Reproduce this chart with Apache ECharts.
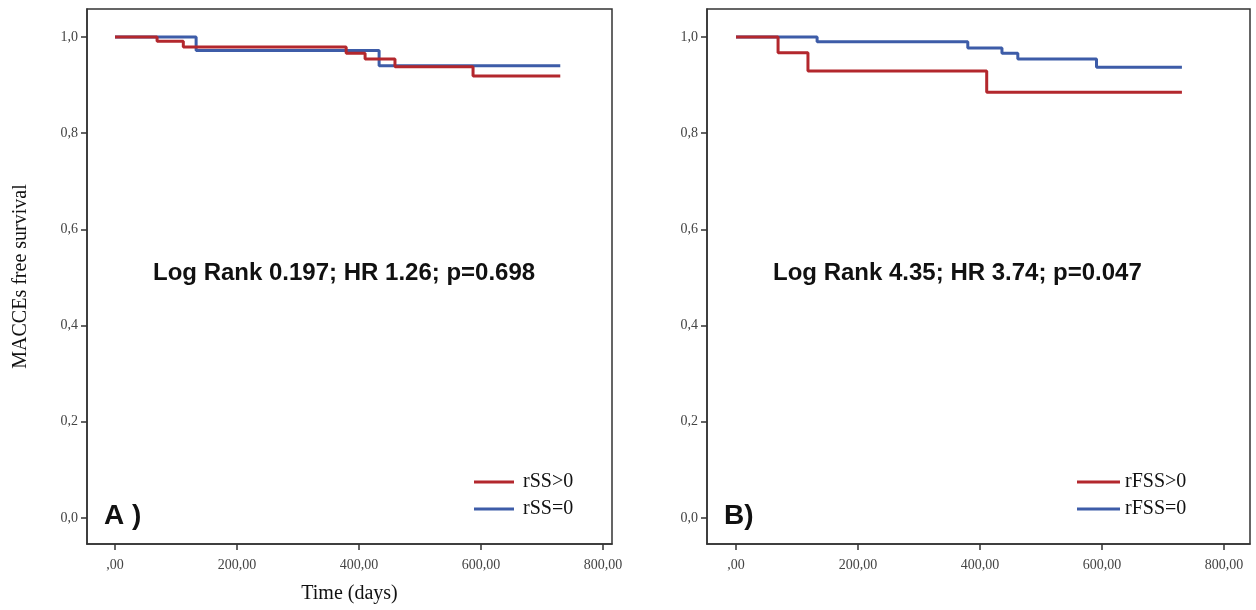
<!DOCTYPE html>
<html>
<head>
<meta charset="utf-8">
<script src="https://cdn.jsdelivr.net/npm/echarts@6/dist/echarts.min.js"></script>
<style>
  html, body { margin: 0; padding: 0; background: #fff; }
  #main { width: 1256px; height: 610px; }
</style>
</head>
<body>
<div id="main"></div>
<script>
// panel A: rSS
var timeA1 = [0, 69, 112, 379, 410, 459, 587, 730]
var survA1 = [1, 0.991, 0.979, 0.966, 0.954, 0.938, 0.919, 0.919]
var timeA0 = [0, 133, 433, 730]
var survA0 = [1, 0.972, 0.94, 0.94]
// panel B: rFSS
var timeB1 = [0, 69, 118, 411, 731]
var survB1 = [1, 0.967, 0.929, 0.885, 0.885]
var timeB0 = [0, 133, 380, 436, 462, 591, 731]
var survB0 = [1, 0.99, 0.977, 0.966, 0.954, 0.937, 0.937]

var xTicks = [0, 200, 400, 600, 800]
var yTicks = [0, 0.2, 0.4, 0.6, 0.8, 1.0]

var RED = '#b3272d'
var BLUE = '#3d5ca8'
var SERIF = '"Liberation Serif", "DejaVu Serif", serif'
var SANS = '"Liberation Sans", Arial, sans-serif'

function pairs (t, s) {
  return t.map(function (v, i) { return [v, s[i]] })
}

function xLabel (v) {
  if (v === 0) return ',00'
  return v.toFixed(2).replace('.', ',')
}
function yLabel (v) {
  return v.toFixed(1).replace('.', ',')
}

function makeX (idx, min, max, name) {
  return {
    type: 'value',
    gridIndex: idx,
    min: min,
    max: max,
    name: name,
    nameLocation: 'middle',
    nameGap: 40,
    nameTextStyle: { fontFamily: SERIF, fontSize: 20, color: '#111' },
    axisLine: { show: true, onZero: false, lineStyle: { color: '#333', width: 1.5 } },
    axisTick: { show: true, length: 6, customValues: xTicks, lineStyle: { color: '#333', width: 1.5 } },
    axisLabel: { customValues: xTicks, formatter: xLabel, fontFamily: SERIF, fontSize: 14, color: '#444', margin: 14 },
    splitLine: { show: false }
  }
}

function makeY (idx, name) {
  return {
    type: 'value',
    gridIndex: idx,
    min: -0.054,
    max: 1.058,
    name: name,
    nameLocation: 'middle',
    nameRotate: 90,
    nameGap: 56,
    nameTextStyle: { fontFamily: SERIF, fontSize: 20, color: '#111' },
    axisLine: { show: true, onZero: false, lineStyle: { color: '#333', width: 1.5 } },
    axisTick: { show: true, length: 6, customValues: yTicks, lineStyle: { color: '#333', width: 1.5 } },
    axisLabel: { customValues: yTicks, formatter: yLabel, fontFamily: SERIF, fontSize: 14, color: '#444', margin: 9 },
    splitLine: { show: false }
  }
}

function makeSeries (name, idx, t, s, color) {
  return {
    name: name,
    type: 'line',
    step: 'end',
    xAxisIndex: idx,
    yAxisIndex: idx,
    symbol: 'none',
    color: color,
    lineStyle: { color: color, width: 3 },
    data: pairs(t, s)
  }
}

function makeLegend (left, names, iconW, textPad) {
  return {
    orient: 'vertical',
    left: left,
    top: 472,
    padding: 0,
    itemWidth: iconW,
    itemHeight: 3,
    itemGap: 7,
    icon: 'rect',
    data: names,
    textStyle: { fontFamily: SERIF, fontSize: 20, lineHeight: 20, color: '#111', padding: [0, 0, 0, textPad] }
  }
}

var myChart = echarts.init(document.getElementById('main'))
myChart.setOption({
  animation: false,
  backgroundColor: '#fff',
  grid: [
    { left: 87, top: 9, width: 525, height: 535, outerBoundsMode: 'none', containLabel: false, show: true, borderColor: '#333', borderWidth: 1.5 },
    { left: 707, top: 9, width: 543, height: 535, outerBoundsMode: 'none', containLabel: false, show: true, borderColor: '#333', borderWidth: 1.5 }
  ],
  xAxis: [makeX(0, -45.9, 814.8, 'Time (days)'), makeX(1, -47.5, 842.6, '')],
  yAxis: [makeY(0, 'MACCEs free survival'), makeY(1, '')],
  legend: [
    makeLegend(474, ['rSS>0', 'rSS=0'], 40, 4),
    makeLegend(1077, ['rFSS>0', 'rFSS=0'], 43, 0)
  ],
  graphic: [
    { type: 'text', left: 153, top: 261, style: { text: 'Log Rank 0.197; HR 1.26; p=0.698', font: 'bold 24px ' + SANS, fill: '#111' } },
    { type: 'text', left: 773, top: 261, style: { text: 'Log Rank 4.35; HR 3.74; p=0.047', font: 'bold 24px ' + SANS, fill: '#111' } },
    { type: 'text', left: 104, top: 502, style: { text: 'A )', font: 'bold 28px ' + SANS, fill: '#111' } },
    { type: 'text', left: 724, top: 502, style: { text: 'B)', font: 'bold 28px ' + SANS, fill: '#111' } }
  ],
  series: [
    makeSeries('rSS=0', 0, timeA0, survA0, BLUE),
    makeSeries('rSS>0', 0, timeA1, survA1, RED),
    makeSeries('rFSS=0', 1, timeB0, survB0, BLUE),
    makeSeries('rFSS>0', 1, timeB1, survB1, RED)
  ]
})
</script>
</body>
</html>
